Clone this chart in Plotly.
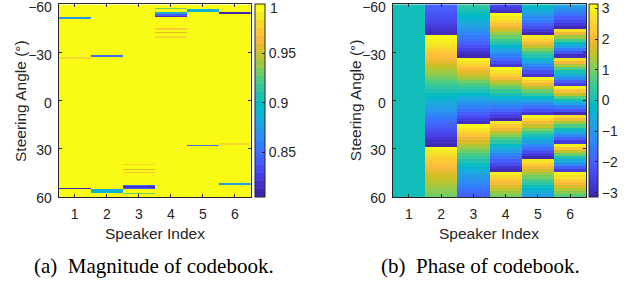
import plotly.graph_objects as go

# ---------------- data ----------------
speakers = [1, 2, 3, 4, 5, 6]
mag_angles = list(range(-60, 61))          # 1 degree rows
phase_angles = list(range(-60, 61, 2))     # 2 degree rows

# magnitude is 1 everywhere except these (angle, value) dips, per speaker
mag_dips_1 = [(-52, 0.87), (-27, 0.98), (55, 0.81)]
mag_dips_2 = [(-28, 0.85), (56, 0.89), (57, 0.89)]
mag_dips_3 = [(40, 0.98), (43, 0.955), (45, 0.975), (53, 0.85), (54, 0.82), (55, 0.84), (58, 0.93)]
mag_dips_4 = [(-58, 0.93), (-55, 0.88), (-54, 0.84), (-53, 0.82), (-45, 0.975), (-43, 0.955), (-40, 0.98)]
mag_dips_5 = [(-57, 0.89), (-56, 0.89), (28, 0.85)]
mag_dips_6 = [(-55, 0.81), (27, 0.98), (52, 0.87)]
mag_base = 1.0

phase_c1 = [0.0, 0.0, 0.0, 0.0, 0.0, 0.0, 0.0, 0.0, 0.0, 0.0, 0.0, 0.0, 0.0, 0.0, 0.0, 0.0,
            0.0, 0.0, 0.0, 0.0, 0.0, 0.0, 0.0, 0.0, 0.0, 0.0, 0.0, 0.0, 0.0, 0.0, 0.0, 0.0,
            0.0, 0.0, 0.0, 0.0, 0.0, 0.0, 0.0, 0.0, 0.0, 0.0, 0.0, 0.0, 0.0, 0.0, 0.0, 0.0,
            0.0, 0.0, 0.0, 0.0, 0.0, 0.0, 0.0, 0.0, 0.0, 0.0, 0.0, 0.0, 0.0]
phase_c2 = [-1.90, -2.00, -2.10, -2.22, -2.33, -2.46, -2.59, -2.72, -2.86, -3.00,
            3.13, 2.98, 2.83, 2.67, 2.50, 2.34, 2.16, 1.99, 1.81, 1.63,
            1.45, 1.26, 1.08, 0.89, 0.70, 0.50, 0.31, 0.12, -0.08, -0.27,
            -0.47, -0.67, -0.86, -1.06, -1.25, -1.44, -1.64, -1.83, -2.02, -2.20,
            -2.39, -2.57, -2.75, -2.93, -3.10, 3.01, 2.84, 2.68, 2.52, 2.36,
            2.21, 2.06, 1.92, 1.78, 1.64, 1.52, 1.39, 1.28, 1.16, 1.06, 0.96]
phase_c3 = [0.36, 0.20, 0.04, -0.13, -0.31, -0.50, -0.70, -0.91, -1.12, -1.34,
            -1.56, -1.80, -2.04, -2.29, -2.54, -2.80, -3.06, 2.96, 2.68, 2.41,
            2.12, 1.84, 1.55, 1.26, 0.97, 0.67, 0.38, 0.08, -0.22, -0.52,
            -0.82, -1.13, -1.43, -1.73, -2.02, -2.32, -2.62, -2.91, 3.08, 2.79,
            2.51, 2.23, 1.95, 1.68, 1.41, 1.15, 0.89, 0.64, 0.39, 0.15,
            -0.08, -0.31, -0.53, -0.74, -0.95, -1.14, -1.33, -1.51, -1.68, -1.85, -2.01]
phase_c4 = [-2.43, -2.67, -2.93, 3.09, 2.80, 2.51, 2.20, 1.88, 1.56, 1.21,
            0.86, 0.49, 0.12, -0.27, -0.66, -1.06, -1.48, -1.90, -2.31, -2.74,
            3.11, 2.74, 2.37, 1.99, 1.61, 1.22, 0.83, 0.45, 0.06, -0.33,
            -0.72, -1.12, -1.51, -1.90, -2.28, -2.67, -3.05, 2.80, 2.36, 1.93,
            1.50, 1.08, 0.66, 0.26, -0.14, -0.55, -0.94, -1.31, -1.69, -2.05,
            -2.40, -2.74, -3.08, 2.89, 2.58, 2.28, 2.00, 1.73, 1.47, 1.22, 0.99]
phase_c5 = [-0.07, -0.34, -0.63, -0.94, -1.26, -1.60, -1.95, -2.31, -2.68, -3.08,
            2.80, 2.39, 1.96, 1.52, 1.08, 0.62, 0.14, -0.33, -0.80, -1.29,
            -1.80, -2.30, -2.81, 2.96, 2.45, 1.94, 1.41, 0.90, 0.38, -0.15,
            -0.67, -1.20, -1.72, -2.25, -2.76, 3.01, 2.51, 2.01, 1.51, 1.03,
            0.54, 0.06, -0.41, -0.87, -1.32, -1.78, -2.22, -2.64, -3.07, 2.80,
            2.41, 2.02, 1.64, 1.29, 0.94, 0.60, 0.28, -0.03, -0.32, -0.60, -0.87]
phase_c6 = [-0.75, -1.08, -1.40, -1.73, -2.06, -2.38, -2.71, -3.03, 2.68, 1.98,
            1.28, 0.58, -0.12, -0.83, -1.53, -2.23, -2.93, 2.68, 2.01, 1.35,
            0.69, 0.03, -0.63, -1.30, -1.96, -2.62, 2.99, 2.24, 1.50, 0.75,
            0.00, -0.75, -1.50, -2.24, -2.99, 2.61, 1.96, 1.30, 0.64, -0.02,
            -0.68, -1.33, -1.99, -2.65, 2.96, 2.26, 1.55, 0.85, 0.14, -0.57,
            -1.27, -1.98, -2.68, 3.03, 2.70, 2.37, 2.05, 1.72, 1.40, 1.07, 0.74]

mag_ticks = [0.85, 0.9, 0.95, 1]
mag_tick_text = ["0.85", "0.9", "0.95", ""]   # the top "1" is drawn as a note so it is not clipped
mag_top_label = "1"
phase_ticks = [-3, -2, -1, 0, 1, 2, 3]
angle_ticks = [-60, -30, 0, 30, 60]
mag_range = (0.805, 1.0)
phase_range = (-3.14159, 3.14159)

# ---------------- build z ----------------
dips = [dict(mag_dips_1), dict(mag_dips_2), dict(mag_dips_3),
        dict(mag_dips_4), dict(mag_dips_5), dict(mag_dips_6)]
z_mag = [[d.get(a, mag_base) for d in dips] for a in mag_angles]
phase_cols = [phase_c1, phase_c2, phase_c3, phase_c4, phase_c5, phase_c6]
z_phase = [[col[i] for col in phase_cols] for i in range(len(phase_angles))]

# ---------------- parula colormap ----------------
PARULA = [
    (0.2422, 0.1504, 0.6603), (0.2504, 0.1650, 0.7076), (0.2578, 0.1818, 0.7511), (0.2647, 0.1978, 0.7952),
    (0.2706, 0.2147, 0.8364), (0.2751, 0.2342, 0.8710), (0.2783, 0.2559, 0.8991), (0.2803, 0.2782, 0.9221),
    (0.2813, 0.3006, 0.9414), (0.2810, 0.3228, 0.9579), (0.2795, 0.3447, 0.9717), (0.2760, 0.3667, 0.9829),
    (0.2699, 0.3892, 0.9906), (0.2602, 0.4123, 0.9952), (0.2440, 0.4358, 0.9988), (0.2206, 0.4603, 0.9973),
    (0.1963, 0.4847, 0.9892), (0.1834, 0.5074, 0.9798), (0.1786, 0.5289, 0.9682), (0.1764, 0.5499, 0.9520),
    (0.1687, 0.5703, 0.9359), (0.1540, 0.5902, 0.9218), (0.1460, 0.6091, 0.9079), (0.1380, 0.6276, 0.8973),
    (0.1248, 0.6459, 0.8883), (0.1113, 0.6635, 0.8763), (0.0952, 0.6798, 0.8598), (0.0689, 0.6948, 0.8394),
    (0.0297, 0.7082, 0.8163), (0.0036, 0.7203, 0.7917), (0.0067, 0.7312, 0.7660), (0.0433, 0.7411, 0.7394),
    (0.0964, 0.7500, 0.7120), (0.1408, 0.7584, 0.6842), (0.1717, 0.7670, 0.6554), (0.1938, 0.7758, 0.6251),
    (0.2161, 0.7843, 0.5923), (0.2470, 0.7918, 0.5567), (0.2906, 0.7973, 0.5188), (0.3406, 0.8008, 0.4789),
    (0.3909, 0.8029, 0.4354), (0.4456, 0.8024, 0.3909), (0.5044, 0.7993, 0.3480), (0.5616, 0.7942, 0.3045),
    (0.6174, 0.7876, 0.2612), (0.6720, 0.7793, 0.2227), (0.7242, 0.7698, 0.1910), (0.7738, 0.7598, 0.1646),
    (0.8203, 0.7498, 0.1535), (0.8634, 0.7406, 0.1596), (0.9035, 0.7330, 0.1774), (0.9393, 0.7288, 0.2100),
    (0.9728, 0.7298, 0.2394), (0.9956, 0.7434, 0.2371), (0.9970, 0.7659, 0.2199), (0.9952, 0.7893, 0.2028),
    (0.9892, 0.8136, 0.1885), (0.9786, 0.8386, 0.1766), (0.9676, 0.8639, 0.1643), (0.9610, 0.8890, 0.1537),
    (0.9597, 0.9135, 0.1423), (0.9628, 0.9373, 0.1265), (0.9691, 0.9606, 0.1064), (0.9769, 0.9839, 0.0805),
]


def parula_at(t):
    t = min(max(t, 0.0), 1.0)
    f = t * (len(PARULA) - 1)
    i = int(f)
    if i >= len(PARULA) - 1:
        c = PARULA[-1]
    else:
        w = f - i
        a, b = PARULA[i], PARULA[i + 1]
        c = tuple(a[k] + (b[k] - a[k]) * w for k in range(3))
    return "rgb(%d,%d,%d)" % tuple(round(v * 255) for v in c)


smooth_scale = [[i / (len(PARULA) - 1), parula_at(i / (len(PARULA) - 1))] for i in range(len(PARULA))]
NB = 24
banded_scale = []
for k in range(NB):
    col = parula_at(k / (NB - 1))
    banded_scale.append([k / NB, col])
    banded_scale.append([(k + 1) / NB, col])

# ---------------- figure ----------------
W, H = 630, 286
AX = "#262626"
SANS = "Liberation Sans, Arial, Helvetica, sans-serif"
SERIF = "Liberation Serif, Times New Roman, serif"

x1 = (58.7 / W, 251.0 / W)
x2 = (392.7 / W, 586.3 / W)
ydom = (1 - 197.0 / H, 1 - 4.4 / H)


def cbar(xpx, thick, ticks, text=None):
    d = dict(
        x=xpx / W, xanchor="left", xref="paper", xpad=0,
        y=ydom[0], yanchor="bottom", yref="paper", ypad=0,
        len=ydom[1] - ydom[0], lenmode="fraction",
        thickness=thick, thicknessmode="pixels",
        outlinewidth=1, outlinecolor=AX,
        ticks="inside", ticklen=3, tickcolor=AX,
        ticklabeloverflow="allow",
        tickvals=ticks, tickfont=dict(family=SANS, size=14, color=AX),
    )
    if text is not None:
        d["ticktext"] = text
    return d


fig = go.Figure()
fig.add_trace(go.Heatmap(
    x=speakers, y=mag_angles, z=z_mag, xaxis="x", yaxis="y",
    colorscale=banded_scale, zmin=mag_range[0], zmax=mag_range[1],
    colorbar=cbar(255.0, 10, mag_ticks, mag_tick_text), hoverinfo="skip",
))
fig.add_trace(go.Heatmap(
    x=speakers, y=phase_angles, z=z_phase, xaxis="x2", yaxis="y2",
    colorscale=smooth_scale, zmin=phase_range[0], zmax=phase_range[1],
    colorbar=cbar(589.3, 9, phase_ticks), hoverinfo="skip",
))

common_x = dict(range=[0.5, 6.5], tickvals=speakers, ticks="inside", ticklen=3,
                tickcolor=AX, showline=True, mirror="ticks", linecolor=AX, linewidth=1,
                showgrid=False, zeroline=False, tickfont=dict(family=SANS, size=14, color=AX),
                ticklabelstandoff=4, ticklabeloverflow="allow")
common_y = dict(range=[60.5, -60.5], tickvals=angle_ticks, ticks="inside", ticklen=3,
                tickcolor=AX, showline=True, mirror="ticks", linecolor=AX, linewidth=1,
                showgrid=False, zeroline=False, tickfont=dict(family=SANS, size=14, color=AX),
                ticklabelstandoff=3, ticklabelshift=-2, ticklabeloverflow="allow")

fig.update_layout(
    width=W, height=H, margin=dict(l=0, r=0, t=0, b=0, autoexpand=False),
    paper_bgcolor="white", plot_bgcolor="white", showlegend=False,
    xaxis=dict(domain=list(x1), anchor="y", **common_x),
    yaxis=dict(domain=list(ydom), anchor="x", **common_y),
    xaxis2=dict(domain=list(x2), anchor="y2", **common_x),
    yaxis2=dict(domain=list(ydom), anchor="x2", **common_y),
)

ann = []
for cx in ((x1[0] + x1[1]) / 2, (x2[0] + x2[1]) / 2):
    ann.append(dict(text="Speaker Index", x=cx, y=1 - 233.0 / H, xref="paper", yref="paper",
                    xanchor="center", yanchor="middle", showarrow=False,
                    font=dict(family=SANS, size=15.5, color=AX)))
for lx in (20.3, 355.5):
    ann.append(dict(text="Steering Angle (°)", x=lx / W, y=(ydom[0] + ydom[1]) / 2,
                    xref="paper", yref="paper", xanchor="center", yanchor="middle",
                    textangle=-90, showarrow=False, font=dict(family=SANS, size=15.5, color=AX)))
ann.append(dict(text=mag_top_label, x=267.5 / W, y=1 - 7.5 / H, xref="paper", yref="paper",
                xanchor="left", yanchor="middle", showarrow=False,
                font=dict(family=SANS, size=14, color=AX)))
ann.append(dict(text="(a)\u2002Magnitude of codebook.", x=153.5 / W, y=1 - 266.0 / H,
                xref="paper", yref="paper", xanchor="center", yanchor="middle",
                showarrow=False, font=dict(family=SERIF, size=21, color="black")))
ann.append(dict(text="(b)\u2002Phase of codebook.", x=481.0 / W, y=1 - 266.0 / H,
                xref="paper", yref="paper", xanchor="center", yanchor="middle",
                showarrow=False, font=dict(family=SERIF, size=21, color="black")))
fig.update_layout(annotations=ann)

fig.write_html(
    "out.html",
    config={"displayModeBar": False, "staticPlot": True},
    post_script="document.body.style.margin='0';document.body.style.padding='0';",
)
